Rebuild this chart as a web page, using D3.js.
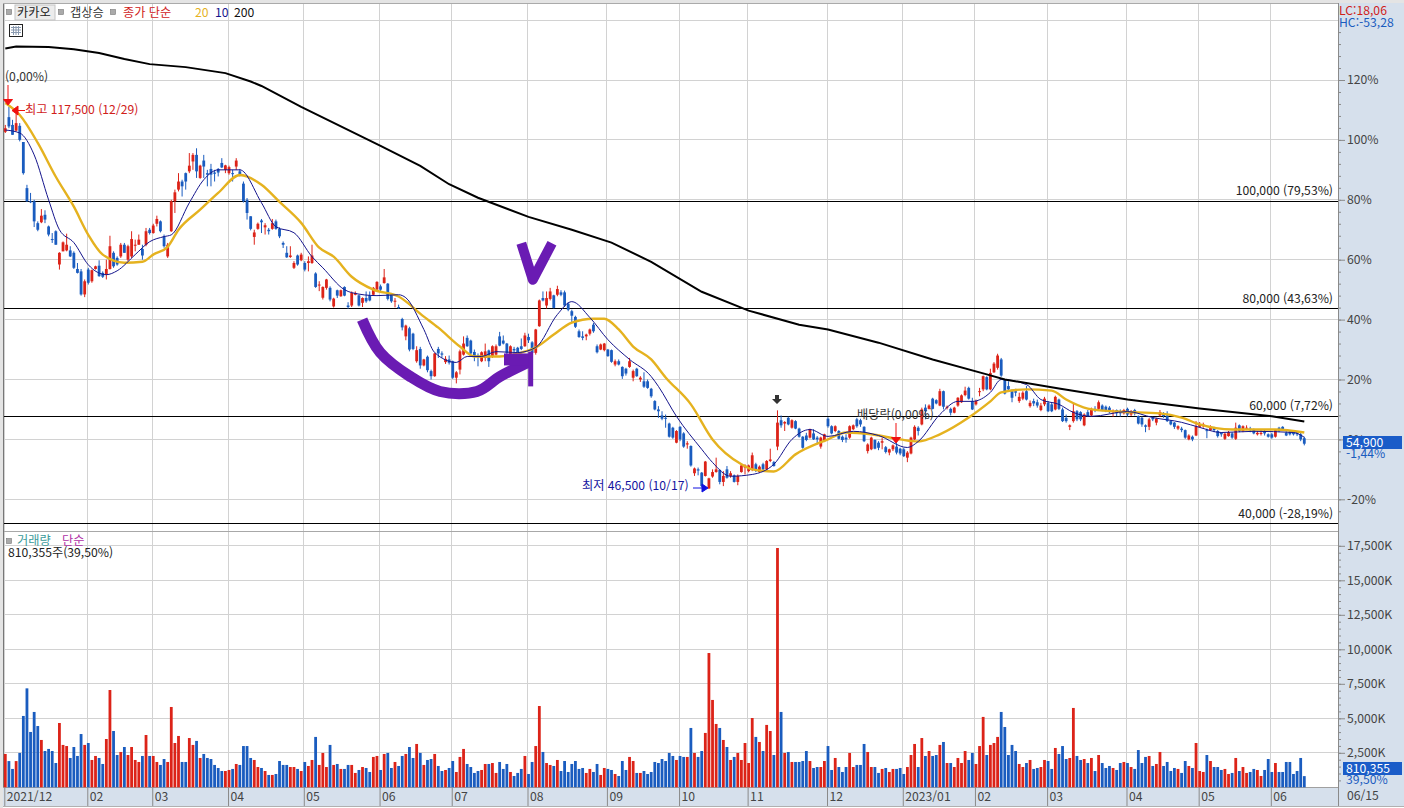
<!DOCTYPE html>
<html lang="ko">
<head>
<meta charset="utf-8">
<script src="https://cdn.jsdelivr.net/npm/d3@7"></script>
<style>
  html, body { margin: 0; padding: 0; background: #fff; overflow: hidden; }
  svg { display: block; }
  text { font-family: "Noto Sans CJK KR", "Noto Sans", sans-serif; font-size: 12.2px; }
  .axis text { fill: #444; }
  .axis path { display: none; }
</style>
</head>
<body>
<svg id="chart" width="1404" height="808"></svg>
<script>
"use strict";

// ===== Data =====
// daily candles [open, high, low, close], % change against the base price
const candles = [
[102.7,105,102.3,103.9],[107.6,111,103.9,104.5],[105,106.7,101.7,101.7],[103.1,108.9,102.8,105.6],[104.7,105.6,99.5,100],[99.3,99.3,88.4,88.9],
[83.9,85,79.3,79.5],[79.5,82.3,78.9,79.3],[79.5,80,70.9,72.8],[72.2,72.8,69.5,70],[72.5,76.9,72.2,74.7],[75,76.5,72.2,73.4],
[71.1,71.4,67.8,68.4],[66.9,68.9,65.6,66.7],[69.5,69.8,65,65],[58.4,62.5,56.7,62.3],[62.8,66.1,62.8,65.8],[63.1,68.7,62.8,65],
[63.1,64.5,60.9,61.1],[62.3,62.8,56.9,57.3],[56.9,58.9,55.4,55.6],[56.1,56.9,48,48.4],[48.4,53.4,47.5,52.8],[56.7,57.3,51.7,52.3],
[52.8,56.7,52.3,56.5],[56.9,58,56.7,57.8],[58,59.8,54.3,54.5],[55.6,56.1,53.9,54.3],[55,60,53.4,56.9],[56.9,68,56.7,64.5],
[62.3,62.8,57.3,57.8],[60.6,61.1,58,58.4],[61.1,65.6,60.6,65],[65,65.6,62.3,62.3],[60,65,59.5,64.5],[61.1,69.5,60.6,66.9],
[64.7,66.7,62.8,65],[65,68.4,65,66.7],[63.6,65,60,61.4],[65,70.6,64.5,69.5],[70,70.6,68.4,68.9],[68.9,72,68.7,71.4],
[72,74.7,71.1,73.6],[72.8,73.1,69.1,69.5],[67.8,68.4,64,64.5],[61.1,65.6,60.6,65],[69.5,80,69.3,79.5],[79.5,83.4,75.6,82.5],
[83.4,88.9,82.8,86.1],[86.1,86.7,81.1,84.5],[88.9,89.1,83.4,86.1],[89.5,95.6,88.9,91.4],[92.8,95.6,90,95],[95,97.2,87.3,89.5],
[87.3,91.7,87,91.4],[93.1,95,87.3,91.1],[88.9,90,84.5,88.4],[90.3,92,84.5,88.4],[89.1,90,86.1,88.7],[90.3,90.6,87.8,89.1],
[92.3,93.9,90.6,90.8],[90,91.7,88.9,91.5],[88.9,91.4,88.4,90.9],[88.9,90,86.1,88.6],[91.1,93.9,90,93.1],[89.5,90.3,87.8,88.4],
[85.4,86.1,79.1,79.5],[80,80.6,73.4,75.6],[74.5,74.5,69.8,70.3],[67.6,70,65,69.1],[70.3,72.4,70,72],[73.1,73.6,68.9,72.5],
[70.8,72.2,68.4,71.5],[70,70.6,68.4,69.5],[70.3,73.6,70,72.2],[72.8,73.4,70,70.3],[70.3,70.8,67.2,67.8],[65.6,66.1,63.9,65],
[62.3,64.5,60.6,60.8],[60.9,64.5,60.6,61.4],[57.3,59.5,56.9,58.9],[61.4,61.7,58,58.4],[59.8,62.3,59.5,61.7],[58.9,59.5,56.1,56.7],
[58.9,61.1,56.1,59.5],[58.9,65,58.6,61.4],[55.4,55.8,50.6,50.9],[51.4,52.8,49.5,51.7],[47.3,51.1,46.7,50.9],[50.6,53.6,50,53.4],
[50.6,51.1,46.1,46.7],[44.4,47.3,44,47],[49.8,50,47.2,48],[47.8,50,47.6,49.8],[50.9,51.1,47.8,48],[44.7,45.8,43.6,44.2],
[44.7,49.4,44.2,48.9],[48.3,49.4,48.1,48.9],[48.1,48.3,44.4,44.7],[45.6,47.4,44.2,47.2],[47.2,49.4,45.6,46.1],[48.1,49.4,46.1,46.4],
[48.3,50.9,48.1,50.6],[50,52.8,49.7,52.6],[51.1,51.7,48.9,50],[52.2,56.9,52,54.1],[52,52.2,46.4,46.9],[48.3,48.9,45.6,46.1],
[46,47.2,44.1,46.3],[44.2,45,43.6,43.8],[40.2,40.6,36.4,37.4],[34.4,38.3,33.1,38],[37.1,37.6,29.4,30],[35.3,35.6,29.8,30.2],
[26.1,31.1,25.6,29.8],[30.2,30.9,23.6,24.7],[24.7,26.9,24.4,26.7],[27.6,28,22.4,23.1],[22.8,23.3,20,21.1],[21.1,28.9,20.9,28.7],
[30.2,30.9,27.2,28.7],[28.7,29.4,27.2,28.3],[25.8,27.8,25.2,26.9],[26.7,28,25,25.6],[26.1,26.3,20.2,20.6],[20.6,22.8,18.7,22.4],
[23.3,30,21.7,29.4],[28.3,34.4,28,32],[33.9,34.7,30.9,31.1],[33,33.3,28.3,28.7],[29.2,30,26.1,27.6],[28,28.7,24.4,27.6],
[26.1,29.4,25.8,29.1],[27.2,32,26.1,29.4],[29.7,30,24.2,26.1],[27.6,31.4,27.2,31.1],[28.3,31.7,28,31.1],[34.4,35.9,31.1,31.3],
[33,34.7,31.7,32],[32,32.2,28,28.9],[28.3,31.4,28,31.1],[30.2,30.9,28,29.7],[30.6,30.9,28.3,29.1],[31.1,33.7,29.8,30.2],
[31.1,35.6,30.9,34.7],[34.2,35.3,32.2,33.1],[32.4,32.8,28.3,28.9],[28.9,36.9,28.3,36.7],[37.8,46.7,37.6,46.4],[47.2,49.4,46.1,46.4],
[44.7,49.4,43.7,47.2],[46.9,50.6,46.4,49.4],[48.1,48.3,43.7,43.9],[48.3,51.3,47.8,50.2],[49.1,49.8,47.8,48.3],[49.1,49.7,44.2,44.7],
[45.3,45.8,42.8,43.3],[42.8,43.3,38.9,41.3],[40.9,41.3,37.2,37.6],[36.1,36.7,33.9,34.2],[34.4,36.1,33.1,33.9],[34.4,35.3,33.1,35],
[35.3,37,34.7,36.7],[38.3,38.9,35.6,36.1],[31.1,31.7,28.7,29.1],[30,32,29.8,31.7],[29.8,32.2,29.4,32],[30,30.2,27.6,27.8],
[29.8,30,25.6,25.9],[25,26.7,24.4,26.1],[26.1,26.7,24.7,25],[24.2,24.4,20.2,21.1],[23.6,23.9,21.3,22],[24.2,27.2,23.9,26.1],
[20.6,23.3,19.4,22.8],[23.6,23.9,20.9,21.1],[20,21.1,19.2,20.6],[19.4,22.4,17.2,17.6],[19.4,20,16.9,17.2],[16.9,17.2,13.9,14.4],
[12.8,13.1,9.7,10],[10,11.1,7.2,9.4],[8,9.4,6.4,6.9],[7.2,8.3,3.9,6.9],[5.3,5.6,0.6,0.9],[3.9,4.2,0.2,0.6],
[-1.1,3.1,-1.3,2.8],[4.2,4.4,-0.6,0],[2,2.4,-2.8,-2.4],[-1.7,-0.6,-3.1,-1.3],[-2.2,-2,-9.1,-8.7],[-11.3,-9.4,-12.2,-9.7],
[-10,-9.4,-12,-10.4],[-11.1,-10.9,-15.9,-15.6],[-12.2,-7.2,-12.4,-7.4],[-16.4,-12.8,-16.5,-13],[-12.4,-10,-12.8,-10.9],[-10.9,-6.1,-11.1,-10],
[-10.2,-10,-15,-14.2],[-14.2,-10.6,-15.6,-12.2],[-10,-8.9,-13.1,-12.8],[-12.2,-10.6,-12.8,-11.3],[-12,-11.7,-14.4,-14.2],[-14.2,-11.7,-15.3,-12.2],
[-10.9,-8.3,-11.1,-8.7],[-9.4,-8.3,-11.7,-8.7],[-10.6,-8.4,-11,-8.7],[-10.2,-4.4,-10.6,-5.3],[-8.3,-7.8,-10.9,-10.2],[-10.9,-8.7,-11.1,-9.1],
[-8.3,-7.8,-10.6,-10],[-10,-6.9,-10.6,-7.2],[-7.2,-3.1,-7.6,-6.7],[-7.6,-7.2,-9.1,-8.9],[-2.4,9.7,-3.6,5.6],[6.4,8,3.9,4.7],
[5.3,6.1,2.8,5.8],[7.2,7.6,4.7,5],[3.9,6.7,3.6,6.4],[6.1,6.4,3.4,3.6],[3.6,3.9,0.6,0.9],[0.9,1.1,-3.1,-2.8],
[1.3,2.2,-0.6,-0.2],[0.6,3.6,0.3,3.4],[2,3.4,-0.2,0],[0.6,1.1,-1.7,0],[-2.4,0.9,-3.1,0.6],[-0.6,1.9,-0.9,1.7],
[6.9,7.4,3.9,4.4],[4.4,4.7,1.7,2],[2.8,4.7,2.4,4.4],[2.8,3.1,0,0.2],[0.9,1.3,-0.9,-0.2],[0.6,1.7,-1.1,0],
[0.6,4.7,0.2,4.4],[3.4,5,3.1,4.7],[6.7,7.2,3.9,4.4],[6.4,6.9,4.2,5],[4.2,4.4,-0.9,-0.6],[-3.9,-1.3,-4.7,-1.7],
[-3.3,0.9,-3.6,0.6],[-0.2,0,-3.3,-3.1],[-1.1,-0.6,-3.6,-2.8],[-1.1,0.6,-3.3,-0.6],[-2.6,-2.2,-4.7,-4.2],[-4.4,-3.1,-5.3,-3.3],
[-3.3,-1.7,-3.9,-2],[-2.4,-0.6,-5,-4.4],[-3.1,-2.8,-5.3,-4.7],[-3.3,-2.8,-5.9,-5.6],[-6.1,-3.9,-7.6,-4.4],[-4.7,0.9,-5,0.6],
[0,4.7,-0.2,4.2],[3.9,4.4,1.3,2.8],[5,10.6,4.7,10],[10.6,11.7,6.7,9.4],[10.2,11.7,10,11.3],[13.6,13.9,10,10.2],
[13.1,13.4,11.7,12],[11.3,16.9,11.1,16.1],[16.1,16.3,10,10.9],[10.6,11.3,10,10.9],[10.2,10.6,8,8.9],[8.9,10.9,8.7,10.6],
[11.3,14.1,10.9,13.9],[12.4,15,12.2,14.7],[14.8,17.6,14.4,16.3],[17.2,17.6,13.3,13.6],[12.8,13.9,9.8,10],[11.7,13.3,11.3,12.8],
[15.8,17.2,14.4,16.1],[16.7,21.3,16.1,21.1],[20.8,21.1,16.4,16.7],[16.7,23.6,16.4,22.2],[22.4,25.8,22.2,25.3],[23.9,28.6,23.3,28],
[26.7,27.2,20.9,21.3],[20,20.2,15,15.3],[17.8,19.4,16.1,16.7],[16.1,16.7,12.4,13.9],[16.1,16.9,14.4,15.6],[12.8,15.6,12.2,14.2],
[13.6,16.1,13.1,15.6],[16.1,17.8,13,13.3],[11.1,13,10.6,12.2],[12.8,13.6,11.1,12],[12.4,13.3,10.6,11.3],[9.8,12.2,9.4,11.3],
[11.7,14.2,11.1,13.6],[12.2,12.8,9.1,9.4],[11.7,12.2,9.1,9.4],[10,14.6,9.7,14.2],[13.3,13.6,9.8,10.2],[10,10.6,5.8,6.1],
[7.2,8.3,5.6,6.1],[4.2,5,3.1,4.7],[6.1,12,5.6,9.4],[9.4,9.8,6.1,6.7],[9.1,9.4,6.1,6.7],[4.7,8.7,4.4,8.3],
[9.1,9.8,7.6,7.8],[8,10.6,7.6,10.2],[10.2,11.1,9.1,9.8],[10.2,13,9.8,12.4],[11.3,11.7,9.4,9.8],[10.9,11.3,9.1,9.4],
[10.6,11.1,8.7,9.1],[9.1,10,7.6,9.6],[9.8,10,7.8,8.7],[9.4,10,7.6,8.7],[8.7,10.2,8.3,9.8],[10.2,10.6,7.6,8.3],
[8.3,9.8,7.8,9.4],[9.8,10.2,8,8.7],[7.8,8,5,5.3],[7.2,7.6,4.2,5],[4.7,5,2.4,4.2],[4.2,7.2,3.1,6.7],
[7.2,7.6,6.1,6.7],[5.6,7.2,4.7,6.9],[8,9.8,7.6,9.1],[8.7,9.1,7.2,7.8],[8,9.4,5.8,6.1],[6.1,6.4,4.7,5],
[5.6,5.8,3.5,4.2],[3.6,4.7,3.1,4.4],[3.6,4.2,2.4,3.1],[3.1,3.3,0.2,0.6],[0,1.7,-0.3,1.3],[0.9,1.3,-0.6,0],
[1.3,6.1,1.1,4.4],[4.2,5.8,3.9,5],[4.4,5.6,3.9,5],[3.1,3.6,0.4,2.8],[3.1,4.7,2.8,4.2],[3.9,4.2,2.4,3.1],
[2.8,3.1,0.6,1.1],[2.2,2.4,0.9,1.7],[0.2,2.2,-0.2,1.9],[1.1,2.8,0.9,2.4],[2,2.4,0.2,0.6],[0.2,5.6,-0.2,3.9],
[4.7,5,2.4,2.8],[2.8,4.7,2.4,4.4],[3.6,4.7,3.1,3.9],[3.6,4.2,2.4,3.1],[3.1,3.6,1.7,2],[1.7,2.8,1.3,2.2],
[1.8,3.1,1.3,2.2],[2.8,3.3,1.3,2],[1.7,2,0.6,0.9],[1.7,2.2,0.2,0.6],[0.9,3.3,0.6,3.1],[3.9,4.2,2.4,2.8],
[4.2,4.4,2.8,3.1],[2.2,2.7,1.1,1.3],[2.4,2.9,1.3,1.7],[2.4,2.8,1.3,1.7],[2.4,2.8,1.1,1.7],[1.7,2.2,-0.6,0],
[0.4,0.9,-2,-1.44]
];

// traded volume per day, thousands of shares
const volumes = [
2415,1900,1330,1900,2490,5170,7170,4010,5460,4440,3430,2630,2780,2630,1760,4660,3070,2990,2125,2920,2270,3860,3070,3210,
1980,2270,2125,1690,3500,7050,4080,2340,2560,2920,2340,2920,1980,1835,2270,3790,2270,2270,1835,1620,2050,1835,5820,3210,
3720,1835,1835,3570,3070,3360,2125,2415,2125,2050,1620,1400,1180,1180,1255,1330,1690,1620,2990,2990,2125,1980,1470,1400,
1180,895,895,965,1905,1620,1620,1470,1470,1330,1180,1835,1545,1980,3650,1620,2490,1470,3070,1620,1690,1330,1330,1620,
1620,1040,1255,1470,1400,1110,2200,2270,1255,2415,2490,1400,1835,1545,2270,2415,2920,2125,3140,2490,1620,1980,2050,2415,
1545,1180,1255,1400,1905,1110,2200,2780,1690,1470,1040,1180,1255,1690,1690,1760,1040,1835,1330,1690,1110,820,1040,1330,
2270,965,1835,2990,5890,2560,1760,1620,1545,1980,1180,1905,1110,1690,1905,1330,1400,1040,1330,1110,1690,895,1400,1330,
1255,965,820,1905,1255,2200,1905,1040,1040,1180,965,1110,1835,1760,2050,1905,2490,2270,1980,2270,2200,2200,4300,2490,2200,
2630,3940,9730,6330,4590,4300,3430,2920,1980,2200,2490,1980,3210,1760,5020,3650,3285,2630,4520,4080,2340,17340,5460,2490,
2560,1835,1835,1835,1905,2630,1905,1400,1470,1470,1905,2990,1255,2125,1470,1110,1470,2490,1470,1620,1620,3140,2560,1470,
1470,1040,1330,1400,1110,1330,1330,1400,965,1470,2340,3140,1470,3570,2270,2630,2270,2340,3070,3285,1760,1760,1470,2125,
1760,2630,1980,2490,1690,2990,5100,2340,3070,3210,3650,5460,4370,2340,3070,2630,1690,1470,1760,1980,1330,1400,1470,1980,1905,
1330,2850,2415,2990,2050,2125,5750,2270,1980,2050,1760,2125,1180,2340,1760,1400,1545,1400,1255,1760,1835,1760,1470,1330,
2700,1760,2200,2270,1545,1690,2560,1545,1835,1180,1400,1330,1040,1905,1545,1400,3210,1180,1110,2340,1905,1470,1470,1255,
1330,965,1040,2125,1180,1470,1040,1110,1330,1255,820,1255,2050,1110,1760,1110,1110,1835,1835,965,1180,2125,810
];

// moving averages, read as [day index, %]
const ma20 = [[0,112.3],[4,108.3],[9,99],[14,87.7],[19,77.7],[23,68.3],[27,61.7],[33,59],[38,59.3],[41,61.7],[45,64.3],[48,70],[54,76.7],[59,82.3],[65,88.3],[71,85],[76,79.3],[82,72.3],[87,64],[91,61],[96,54.3],[102,50],[109,47.7],[116,41],[120,37.3],[126,31],[130,27.7],[137,27.7],[143,29],[147,30.7],[152,35],[157,39],[163,40.3],[166,40.3],[170,36.7],[174,31],[179,26.7],[183,20.7],[190,11.7],[196,0],[204,-8.3],[207,-10],[213,-10.7],[219,-5],[228,0],[233,2.3],[240,1.7],[248,0],[253,-0.7],[259,1.7],[267,7.3],[273,12.7],[276,15.7],[283,16.7],[290,16.3],[294,13.3],[300,10.3],[308,9.3],[320,8.7],[326,7.3],[331,5],[340,3.3],[352,3.3],[360,2.3]];
const ma10 = [[0,103.3],[4,102.3],[8,95],[12,80],[15,70],[19,65.7],[23,58.3],[28,55],[31,56.3],[36,61.7],[40,66],[44,67.7],[46,68.3],[51,79],[55,86.7],[59,90],[65,90],[71,79],[75,71],[80,69],[85,61],[88,57.3],[94,50],[96,49],[103,48],[109,48.3],[111,47.3],[116,36.7],[119,29],[125,25.7],[128,27.7],[132,27.7],[136,29.3],[142,29],[147,30.7],[153,41.7],[157,46],[162,40.7],[167,33.3],[173,26.7],[179,21],[181,17.7],[186,7.7],[193,-3.3],[196,-7.7],[201,-12.3],[207,-11.7],[213,-8.3],[218,0],[223,3.3],[228,1],[235,2.7],[242,1.3],[250,-2.7],[253,-0.7],[259,8.3],[264,12.7],[268,12.7],[273,15.7],[276,20],[283,18.3],[287,13.3],[292,11.7],[296,9],[301,7.7],[311,9.3],[318,7.3],[326,5.7],[331,4],[337,2.3],[346,2.7],[357,2.3],[360,0.7]];
const ma200 = [[0,130.5],[3,131.2],[12,131],[19,130.3],[26,129],[33,127],[40,125.3],[50,124.3],[61,122.3],[68,119.5],[71,118],[82,111],[104,98],[115,91.3],[123,85.2],[131,80.7],[145,74.3],[157,70],[168,65.7],[179,59.3],[193,49.3],[206,43],[220,38.3],[228,36.7],[242,32.3],[257,26.7],[272,21.7],[277,20],[292,17],[311,13.3],[331,10.3],[351,7.7],[360,6]];

// month starts on the time axis
const monthIndex = [0,23,41,62,83,104,124,145,167,187,206,228,249,269,289,311,331,351];
const monthLabels = ["2021/12","02","03","04","05","06","07","08","09","10","11","12","2023/01","02","03","04","05","06"];

// price levels marked across the chart
const levelPct = [79.53,43.63,7.72,-28.19];
const levelLabels = ["100,000 (79,53%)","80,000 (43,63%)","60,000 (7,72%)","40,000 (-28,19%)"];

const pctTicks = [120,100,80,60,40,20,0,-20];
const pctMinorTicks = d3.range(-24, 140, 4);
const volTicks = [2500,5000,7500,10000,12500,15000,17500];
const volMinorTicks = d3.range(500, 18000, 500);

// hand-drawn marks on the chart, [day index, %]
const swoosh = [[98.9,40],[103.9,29],[112.2,21],[120.5,16],[130.7,16],[137.1,21],[145.4,26]];
const swooshBar = [[138.2,26.7],[146,26.7]];
const swooshStem = [[145.6,29.3],[145.6,17.7]];
const checkMark = [[143,65.5],[146.2,53.3],[151.5,65.5]];

const RED = "#dc2318", BLUE = "#1a5cbf", GRID = "#d2d2d2", PANEL = "#d6e0ec", PURPLE = "#6a1bb3";

// ===== Scales =====
const x = d3.scaleLinear().domain([0, 360]).range([5.3, 1304.3]);
const xGrid = d3.scaleLinear().domain([0, 360]).range([4.3, 1303.3]);
const y = d3.scaleLinear().domain([-20, 120]).range([499.3, 80]);
const yVol = d3.scaleLinear().domain([0, 17500]).range([787.3, 545.8]);

const svg = d3.select("#chart");

// ===== Panels =====
svg.append("rect").attr("width", 1404).attr("height", 808).attr("fill", "#fff");
svg.append("rect").attr("width", 1404).attr("height", 3).attr("fill", "#e4e4e4");
svg.append("rect").attr("width", 3).attr("height", 808).attr("fill", "#e4e4e4");
svg.append("rect").attr("x", 1338).attr("y", 3).attr("width", 66).attr("height", 803).attr("fill", PANEL);
svg.append("rect").attr("x", 3).attr("y", 788).attr("width", 1401).attr("height", 18).attr("fill", PANEL);

// ===== Grid =====
const grid = svg.append("g").attr("shape-rendering", "crispEdges");
grid.selectAll("line.v").data(monthIndex).join("line")
  .attr("x1", d => xGrid(d)).attr("x2", d => xGrid(d))
  .attr("y1", 3).attr("y2", 787).attr("stroke", GRID);
grid.selectAll("line.p").data([140, ...pctTicks]).join(enter => enter.append("line"))
  .attr("x1", 4).attr("x2", 1338).attr("y1", d => y(d)).attr("y2", d => y(d)).attr("stroke", GRID);
grid.selectAll("line.q").data(volTicks).join(enter => enter.append("line"))
  .attr("x1", 4).attr("x2", 1338).attr("y1", d => yVol(d)).attr("y2", d => yVol(d)).attr("stroke", GRID);
grid.append("line").attr("x1", 3).attr("x2", 1338).attr("y1", 531).attr("y2", 531).attr("stroke", "#a8a8a8");
grid.append("line").attr("x1", 3.5).attr("x2", 3.5).attr("y1", 3).attr("y2", 788).attr("stroke", "#777");
grid.append("line").attr("x1", 3).attr("x2", 1338).attr("y1", 3.5).attr("y2", 3.5).attr("stroke", "#aaa");

// ===== Axes =====
const axisY = svg.append("g").attr("class", "axis").attr("transform", "translate(1338,0)");
axisY.append("g").call(d3.axisRight(y).tickValues(pctMinorTicks.filter(d => y(d) > 3)).tickSize(3).tickFormat(""));
axisY.append("g").call(d3.axisRight(y).tickValues(pctTicks).tickSize(7).tickPadding(2).tickFormat(d => d + "%"));

const axisV = svg.append("g").attr("class", "axis").attr("transform", "translate(1338,0)");
axisV.append("g").call(d3.axisRight(yVol).tickValues(volMinorTicks).tickSize(3).tickFormat(""));
axisV.append("g").call(d3.axisRight(yVol).tickValues(volTicks).tickSize(7).tickPadding(2)
  .tickFormat(d => d3.format(",")(d) + "K"));

const axisX = svg.append("g").attr("class", "axis").attr("transform", "translate(0,787)");
axisX.call(d3.axisBottom(xGrid).tickValues(monthIndex).tickSize(19).tickFormat((d, i) => monthLabels[i]));
axisX.selectAll("text").attr("text-anchor", "start").attr("x", 2).attr("y", 5).attr("dy", "0.71em");
svg.selectAll(".axis line").attr("stroke", "#8a8a8a");
svg.append("line").attr("x1", 3).attr("x2", 1338).attr("y1", 787.5).attr("y2", 787.5).attr("stroke", "#a0a0a0");
svg.append("line").attr("x1", 1338.5).attr("x2", 1338.5).attr("y1", 3).attr("y2", 806).attr("stroke", "#8a8a8a");
svg.append("line").attr("x1", 3).attr("x2", 1404).attr("y1", 806.5).attr("y2", 806.5).attr("stroke", "#b0b0b0");

// ===== Price levels =====
const levels = svg.append("g");
levels.selectAll("line").data(levelPct).join("line")
  .attr("shape-rendering", "crispEdges")
  .attr("x1", 4).attr("x2", 1338).attr("y1", d => y(d)).attr("y2", d => y(d))
  .attr("stroke", "#000").attr("stroke-width", 1);
levels.selectAll("text").data(levelPct).join("text")
  .attr("x", 1333).attr("y", d => y(d) - 6).attr("text-anchor", "end").style("fill", "#222")
  .text((d, i) => levelLabels[i]);

// ===== Candles =====
const isUp = d => d[3] >= d[0];
const candle = svg.append("g").selectAll("g").data(candles).join("g")
  .attr("transform", (d, i) => `translate(${x(i)},0)`);
candle.append("line")
  .attr("y1", d => y(d[1])).attr("y2", d => y(d[2]))
  .attr("stroke", d => isUp(d) ? RED : BLUE).attr("stroke-width", 1);
candle.append("rect")
  .attr("x", -1.4).attr("width", 2.8)
  .attr("y", d => y(Math.max(d[0], d[3])))
  .attr("height", d => Math.max(1, Math.abs(y(d[0]) - y(d[3]))))
  .attr("fill", d => isUp(d) ? RED : BLUE);

// ===== Moving averages =====
const maLine = d3.line().x(d => x(d[0])).y(d => y(d[1]));
svg.append("path").attr("d", maLine.curve(d3.curveMonotoneX)(ma20)).attr("fill", "none").attr("stroke", "#e5b21f").attr("stroke-width", 2.4);
svg.append("path").attr("d", maLine.curve(d3.curveMonotoneX)(ma10)).attr("fill", "none").attr("stroke", "#14148c").attr("stroke-width", 1);
svg.append("path").attr("d", maLine.curve(d3.curveLinear)(ma200)).attr("fill", "none").attr("stroke", "#000").attr("stroke-width", 2);

// ===== Volume =====
svg.append("g").selectAll("rect").data(volumes).join("rect")
  .attr("x", (d, i) => x(i) - 1.4).attr("width", 2.8)
  .attr("y", d => yVol(d)).attr("height", d => yVol(0) - yVol(d))
  .attr("fill", (d, i) => isUp(candles[i]) ? RED : BLUE);

// ===== Hand-drawn marks =====
const mark = d3.line().x(d => x(d[0])).y(d => y(d[1]));
const drawMark = (pts, width, curve) => svg.append("path")
  .attr("d", mark.curve(curve)(pts)).attr("fill", "none").attr("stroke", PURPLE)
  .attr("stroke-width", width).attr("stroke-linejoin", "round").attr("stroke-linecap", "butt");
drawMark(swoosh, 11, d3.curveCatmullRom);
drawMark(swooshBar, 12, d3.curveLinear);
drawMark(swooshStem, 5, d3.curveLinear);
drawMark(checkMark, 10, d3.curveLinear);

// ===== Annotations =====
function label(px, py, text, color, anchor) {
  return svg.append("text").attr("x", px).attr("y", py).style("fill", color)
    .attr("text-anchor", anchor || "start").text(text);
}
label(5, 81, "(0,00%)", "#333");
label(25, 114, "최고 117,500 (12/29)", "#d0201a");
label(582, 490, "최저 46,500 (10/17)", "#1414a0");
label(857, 419, "배당락(0,00%)", "#333");
label(1347, 800, "06/15", "#444");
svg.append("path").attr("d", "M8,85V100M3.5,99.5H12.5L8,105Z").attr("stroke", "#f01010").attr("fill", "#f01010");
svg.append("path").attr("d", "M25,110.5H16M18,106V115L12,110.5Z").attr("stroke", "#f01010").attr("fill", "#f01010");
svg.append("path").attr("d", "M693,488H703M702,484V492L708,488Z").attr("stroke", "#1010e0").attr("fill", "#1010e0");
svg.append("path").attr("d", "M775,395H779V399H782L777,404L772,399H775Z").attr("fill", "#333");
svg.append("path").attr("d", "M896,423V438M891.5,437.5H900.5L896,443Z").attr("stroke", "#f01010").attr("fill", "#f01010");

// ===== Legend row =====
[[9, 12], [61, 12], [113, 12], [9, 541]].forEach(([px, py]) => {
  svg.append("rect").attr("x", px - 2.5).attr("y", py - 2.5).attr("width", 5).attr("height", 5)
    .attr("fill", "#aaa").attr("stroke", "#777").attr("stroke-width", 0.6);
});
svg.append("rect").attr("x", 15).attr("y", 5).attr("width", 40).attr("height", 15)
  .attr("fill", "#ececec").attr("stroke", "#c4c4c4");
label(17, 17, "카카오", "#222");
label(70, 17, "갭상승", "#333");
label(123, 17, "종가 단순", "#d0201a");
label(195, 17, "20", "#e5b21f");
label(215, 17, "10", "#14148c");
label(234, 17, "200", "#111");
label(17, 545, "거래량", "#3a9a9a");
label(62, 545, "단순", "#b02fa6");
label(8, 557, "810,355주(39,50%)", "#222");

// table icon
const icon = svg.append("g").attr("stroke", "#222").attr("fill", "none").attr("stroke-width", 1);
icon.append("rect").attr("x", 9.5).attr("y", 24.5).attr("width", 13).attr("height", 12).attr("fill", "#fff");
icon.append("path").attr("d", "M11,27.5H21M11,30H21M11,32.5H21M13.5,26V35M16,26V35M18.5,26V35").attr("stroke", "#8a9ab0");

// ===== Right panel readouts =====
label(1339, 15, "LC:18,06", "#d0201a");
label(1339, 27, "HC:-53,28", "#1a5cbf");
svg.append("rect").attr("x", 1343).attr("y", 436).attr("width", 59).attr("height", 13).attr("fill", "#1a5cc8");
label(1346, 447, "54,900", "#fff");
label(1346, 458, "-1,44%", "#1a5cbf");
svg.append("rect").attr("x", 1343).attr("y", 762).attr("width", 59).attr("height", 13).attr("fill", "#1a5cc8");
label(1346, 773, "810,355", "#fff");
label(1346, 784, "39,50%", "#1a5cbf");
</script>
</body>
</html>
